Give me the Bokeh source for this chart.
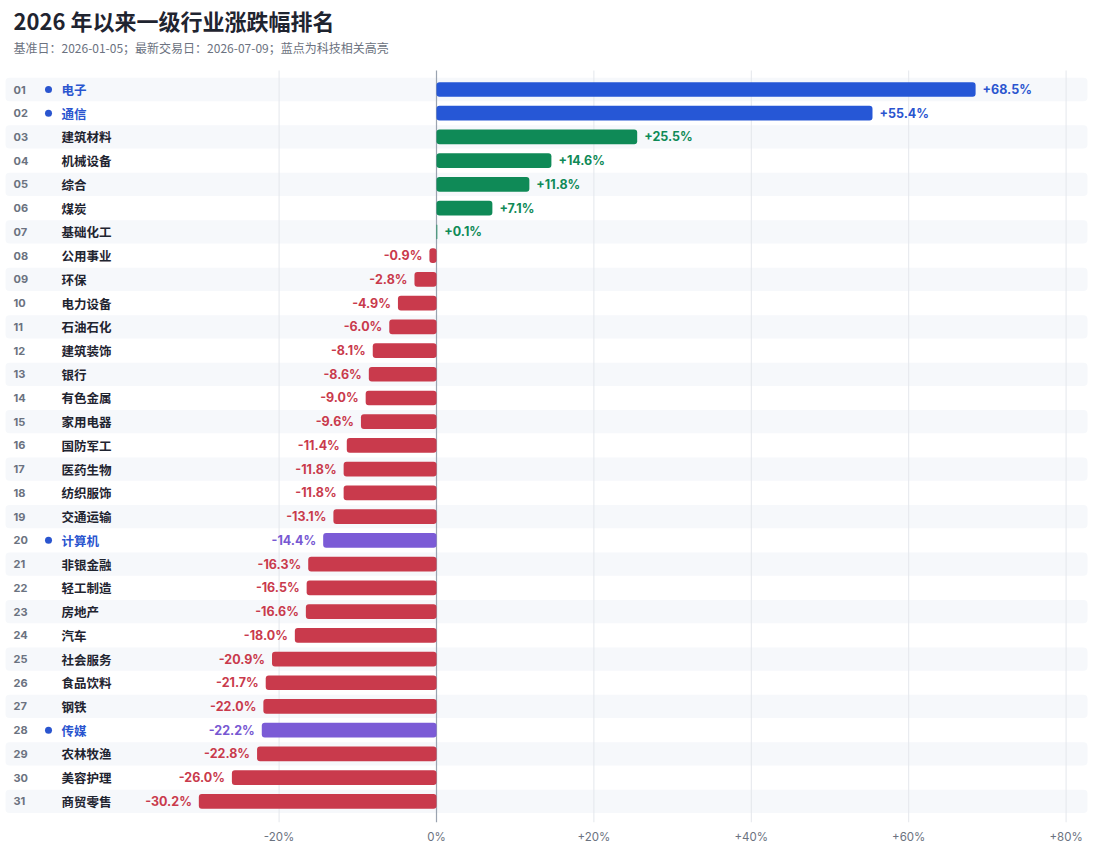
from bokeh.plotting import figure
from bokeh.models import ColumnDataSource, Range1d, FixedTicker
from bokeh.core.properties import value
from bokeh.embed import file_html
from bokeh.resources import INLINE

# ---------------- data ----------------
ranks = ["01","02","03","04","05","06","07","08","09","10","11","12","13","14","15","16",
         "17","18","19","20","21","22","23","24","25","26","27","28","29","30","31"]
industries = ["电子","通信","建筑材料","机械设备","综合","煤炭","基础化工","公用事业","环保","电力设备",
              "石油石化","建筑装饰","银行","有色金属","家用电器","国防军工","医药生物","纺织服饰",
              "交通运输","计算机","非银金融","轻工制造","房地产","汽车","社会服务","食品饮料","钢铁",
              "传媒","农林牧渔","美容护理","商贸零售"]
changes = [68.5, 55.4, 25.5, 14.6, 11.8, 7.1, 0.1, -0.9, -2.8, -4.9, -6.0, -8.1, -8.6, -9.0,
           -9.6, -11.4, -11.8, -11.8, -13.1, -14.4, -16.3, -16.5, -16.6, -18.0, -20.9, -21.7,
           -22.0, -22.2, -22.8, -26.0, -30.2]
tech = ["电子","通信","计算机","传媒"]
tick_values = [-20, 0, 20, 40, 60, 80]
tick_labels = ["-20%", "0%", "+20%", "+40%", "+60%", "+80%"]

title_text = "2026 年以来一级行业涨跌幅排名"
subtitle_text = "基准日：2026-01-05；最新交易日：2026-07-09；蓝点为科技相关高亮"

# ---------------- styles / layout ----------------
CJK = value("Noto Sans CJK SC")
LAT = value("Inter")
W, H = 1108, 846
ZERO_PX = 436.0
PX_PER_UNIT = 7.87
ROW1_PX = 89.0
ROW_PX = 23.73
AXIS_PX = 24
FRAME_BOTTOM_PX = H - AXIS_PX

def xd(px):
    return (px - ZERO_PX) / PX_PER_UNIT

def yd(py):
    return 1 + (py - ROW1_PX) / ROW_PX

C_BLUE, C_BLUE_T = "#2657d6", "#2a55cf"
C_GREEN, C_GREEN_T = "#0f8a57", "#0f8a57"
C_RED, C_RED_T = "#c93a4c", "#c93a4c"
C_PURP, C_PURP_T = "#7b5bd6", "#7758d2"

n = len(industries)
rows = list(range(1, n + 1))
bar_col, lab_col, name_col, lab_txt = [], [], [], []
for name, v in zip(industries, changes):
    is_t = name in tech
    if v >= 0:
        bc, lc = (C_BLUE, C_BLUE_T) if is_t else (C_GREEN, C_GREEN_T)
        lab_txt.append(f"+{v:.1f}%")
    else:
        bc, lc = (C_PURP, C_PURP_T) if is_t else (C_RED, C_RED_T)
        lab_txt.append(f"{v:.1f}%")
    bar_col.append(bc)
    lab_col.append(lc)
    name_col.append("#2a55cf" if is_t else "#1f2430")

src = ColumnDataSource(dict(y=rows, v=changes, bc=bar_col, lc=lab_col, nc=name_col,
                            lab=lab_txt, rank=ranks, name=industries))
pos_idx = [i for i, v in enumerate(changes) if v >= 0]
neg_idx = [i for i, v in enumerate(changes) if v < 0]
def sub(idx):
    return ColumnDataSource({k: [src.data[k][i] for i in idx] for k in src.data})
src_pos, src_neg = sub(pos_idx), sub(neg_idx)
tech_rows = [r for r, nm in zip(rows, industries) if nm in tech]
stripe_rows = [r for r in rows if r % 2 == 1]

p = figure(width=W, height=H, output_backend="svg", toolbar_location=None,
           x_range=Range1d(xd(0), xd(W)), y_range=Range1d(yd(FRAME_BOTTOM_PX), yd(0)),
           x_axis_location="below", y_axis_location=None,
           min_border_left=0, min_border_right=0, min_border_top=0,
           min_border_bottom=AXIS_PX,
           background_fill_color="white", border_fill_color="white")
p.outline_line_color = None
p.grid.visible = False

# stripes
p.hbar(y=stripe_rows, left=xd(5), right=xd(1087), height=0.98, fill_color="#f6f8fb",
       line_color=None, border_radius=4)

# grid lines
grid_x = [t for t in tick_values if t != 0]
p.segment(x0=grid_x, x1=grid_x, y0=yd(70), y1=yd(822), line_color="#e4e7ec", line_width=1)
p.segment(x0=[0], x1=[0], y0=yd(70), y1=yd(822), line_color="#9aa3b0", line_width=1.2)

# bars
p.hbar(y="y", left=0, right="v", height=0.62, fill_color="bc", line_color=None,
       border_radius=3, source=src)

# value labels
p.text(x="v", y="y", text="lab", source=src_pos, text_color="lc", text_font=LAT,
       text_font_size=value("12.5px"), text_font_style="bold", text_align="left",
       text_baseline="middle", x_offset=7)
p.text(x="v", y="y", text="lab", source=src_neg, text_color="lc", text_font=LAT,
       text_font_size=value("12.5px"), text_font_style="bold", text_align="right",
       text_baseline="middle", x_offset=-7)

# row labels
p.text(x=xd(13), y="y", text="rank", source=src, text_color="#6b7280", text_font=LAT,
       text_font_size=value("11px"), text_font_style="bold", text_align="left",
       text_baseline="middle")
p.text(x=xd(61), y="y", text="name", source=src, text_color="nc", text_font=CJK,
       text_font_size=value("12.5px"), text_font_style="bold", text_align="left",
       text_baseline="middle")
p.scatter(x=xd(48), y=tech_rows, size=7, fill_color="#2a55cf", line_color=None)

# title + subtitle
p.text(x=xd(13), y=yd(19), text=[title_text], text_color="#1f2430", text_font=CJK,
       text_font_size=value("22px"), text_font_style="bold", text_align="left",
       text_baseline="middle")
p.text(x=xd(13), y=yd(47), text=[subtitle_text], text_color="#6b7280", text_font=CJK,
       text_font_size=value("12px"), text_align="left", text_baseline="middle")

# axis
ax = p.xaxis[0]
ax.ticker = FixedTicker(ticks=tick_values)
ax.major_label_overrides = {t: l for t, l in zip(tick_values, tick_labels)}
ax.axis_line_color = None
ax.major_tick_line_color = None
ax.minor_tick_line_color = None
ax.major_tick_out = 0
ax.major_tick_in = 0
ax.minor_tick_out = 0
ax.minor_tick_in = 0
ax.major_label_text_font = "Inter"
ax.major_label_text_font_size = "11.5px"
ax.major_label_text_color = "#6b7280"
ax.major_label_standoff = 7

open("out.html", "w").write(file_html(p, INLINE))
